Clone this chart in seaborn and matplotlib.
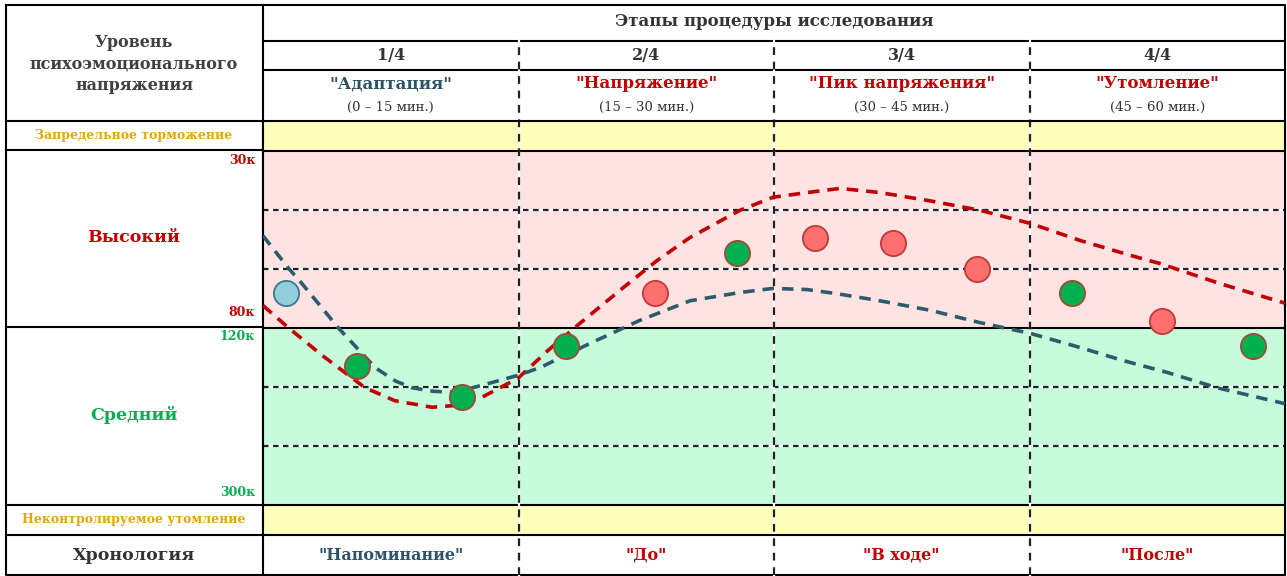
import matplotlib
matplotlib.use("Agg")
import matplotlib.pyplot as plt
import matplotlib.transforms as mtransforms
import seaborn as sns
import pandas as pd

# stages of the study (minutes 0-60)
stage_nums = ["1/4", "2/4", "3/4", "4/4"]
stage_names = ['"Адаптация"', '"Напряжение"', '"Пик напряжения"', '"Утомление"']
stage_times = ["(0 – 15 мин.)", "(15 – 30 мин.)", "(30 – 45 мин.)", "(45 – 60 мин.)"]
stage_colors = ["#2b5466", "#c00000", "#c00000", "#c00000"]
chrono = ['"Напоминание"', '"До"', '"В ходе"', '"После"']
stage_bounds = [15, 30, 45]

# measured points (x = minutes, y = level, 0..3 medium, 3..6 high)
pt_x = [1.35, 5.5, 11.7, 17.8, 23.0, 27.8, 32.4, 37.0, 41.9, 47.5, 52.8, 58.1]
pt_y = [3.60, 2.36, 1.84, 2.69, 3.60, 4.27, 4.53, 4.43, 4.00, 3.60, 3.11, 2.69]
pt_kind = ["base", "ok", "ok", "ok", "high", "ok", "high", "high", "high", "ok", "high", "ok"]

# red dashed curve
red_x = [0.0, 1.47, 3.46, 5.99, 7.75, 9.92, 11.27, 12.86, 14.97, 16.73, 18.61, 21.14,
         23.13, 25.07, 28.0, 29.94, 31.94, 33.88, 36.22, 39.16, 42.10, 45.03, 47.97,
         50.90, 52.66, 56.19, 60.0]
red_y = [3.38, 3.01, 2.54, 1.99, 1.77, 1.66, 1.69, 1.83, 2.15, 2.62, 3.08, 3.68,
         4.14, 4.53, 4.99, 5.21, 5.29, 5.36, 5.29, 5.15, 4.99, 4.77, 4.48,
         4.23, 4.09, 3.75, 3.42]
# blue dashed curve
blue_x = [0.0, 1.47, 2.29, 4.40, 6.58, 7.8, 8.75, 10.0, 11.27, 13.21, 14.97, 16.26,
          19.20, 22.13, 25.07, 28.0, 29.94, 31.94, 33.70, 36.22, 39.16, 42.10, 45.03,
          47.97, 50.49, 53.07, 56.01, 60.0]
blue_y = [4.56, 4.02, 3.75, 3.01, 2.33, 2.10, 1.99, 1.93, 1.91, 2.06, 2.20, 2.33,
          2.74, 3.13, 3.46, 3.60, 3.67, 3.65, 3.58, 3.46, 3.30, 3.09, 2.91,
          2.67, 2.45, 2.25, 1.99, 1.72]

kind_fill = {"base": "#92cddc", "ok": "#00b04f", "high": "#ff6f6f"}
kind_edge = {"base": "#3a7890", "ok": "#a04a3a", "high": "#c03a3a"}

serif = "DejaVu Serif"
W, H = 1287, 576
fig = plt.figure(figsize=(W / 100, H / 100), dpi=100)

over = fig.add_axes([0, 0, 1, 1])
over.set_xlim(0, W)
over.set_ylim(H, 0)
over.axis("off")

x0, x1, ytop, ybot = 263, 1285, 121, 535
ax = fig.add_axes([x0 / W, (H - ybot) / H, (x1 - x0) / W, (ybot - ytop) / H])
ax.set_xlim(0, 60)
ax.set_ylim(-0.5, 6.5)

# bands
ax.axhspan(6, 6.5, color="#ffffbb", lw=0)
ax.axhspan(3, 6, color="#ffe3e3", lw=0)
ax.axhspan(0, 3, color="#c6fcdc", lw=0)
ax.axhspan(-0.5, 0, color="#ffffbb", lw=0)

for lv in [1, 2, 4, 5]:
    ax.axhline(lv, color="white", lw=1.6, zorder=2)
    ax.axhline(lv, color="#222222", lw=1.6, dashes=(2.5, 2), zorder=2)
for lv in [0, 3, 6]:
    ax.axhline(lv, color="black", lw=1.5, zorder=2)

for b in stage_bounds:
    ax.axvline(b, ymin=-0.097, ymax=1.193, color="white", lw=1.6, clip_on=False, zorder=2)
    ax.axvline(b, ymin=-0.097, ymax=1.193, color="#222222", lw=1.6, dashes=(3.5, 3),
               clip_on=False, zorder=2)

curves = pd.DataFrame({"x": red_x, "y": red_y})
sns.lineplot(data=curves, x="x", y="y", ax=ax, color="#c00000", lw=2.6,
             linestyle=(0, (3.2, 2.2)), zorder=3, legend=False)
curves_b = pd.DataFrame({"x": blue_x, "y": blue_y})
sns.lineplot(data=curves_b, x="x", y="y", ax=ax, color="#2e5b6c", lw=2.6,
             linestyle=(0, (3.2, 2.2)), zorder=3, legend=False)

pts = pd.DataFrame({"x": pt_x, "y": pt_y, "kind": pt_kind})
for k in ["base", "ok", "high"]:
    sub = pts[pts["kind"] == k]
    sns.scatterplot(data=sub, x="x", y="y", ax=ax, s=330, color=kind_fill[k],
                    edgecolor=kind_edge[k], linewidth=1.3, zorder=5, legend=False)

ax.set_xlabel("")
ax.set_ylabel("")
ax.set_xticks([])
ax.set_yticks([])
for sp in ax.spines.values():
    sp.set_color("black")
    sp.set_linewidth(1.5)

# table frame
lk = dict(color="black", lw=1.5)
over.plot([6, 1285, 1285, 6, 6], [5, 5, 575, 575, 5], **lk)
over.plot([263, 263], [5, 575], **lk)
over.plot([263, 1285], [41, 41], **lk)
over.plot([263, 1285], [70, 70], **lk)
for yy in [121, 150, 327, 505, 535]:
    over.plot([6, 263], [yy, yy], **lk)

tk = dict(family=serif, weight="bold", ha="center", va="center")
over.text(774, 21, "Этапы процедуры исследования", fontsize=12, color="#333333", **tk)
over.text(134, 64, "Уровень\nпсихоэмоционального\nнапряжения", fontsize=11.5,
          color="#404040", linespacing=1.35, **tk)
over.text(134, 136, "Запредельное торможение", fontsize=9, color="#e0a800", **tk)
over.text(134, 238, "Высокий", fontsize=12.5, color="#c00000", **tk)
over.text(134, 415, "Средний", fontsize=12.5, color="#00b050", **tk)
over.text(134, 520, "Неконтролируемое утомление", fontsize=9, color="#e0a800", **tk)
over.text(134, 555, "Хронология", fontsize=12.5, color="#333333", **tk)

rk = dict(family=serif, weight="bold", ha="right", va="center", fontsize=9)
over.text(255, 160, "30к", color="#c00000", **rk)
over.text(255, 312, "80к", color="#c00000", **rk)
over.text(255, 337, "120к", color="#00b050", **rk)
over.text(255, 493, "300к", color="#00b050", **rk)

blend = mtransforms.blended_transform_factory(ax.transData, over.transData)
for i in range(4):
    cx = 7.5 + 15 * i
    over.text(cx, 55, stage_nums[i], transform=blend, fontsize=11.5, color="#333333", **tk)
    over.text(cx, 84, stage_names[i], transform=blend, fontsize=12, color=stage_colors[i], **tk)
    over.text(cx, 107, stage_times[i], transform=blend, fontsize=9.5, color="#333333",
              family=serif, ha="center", va="center")
    over.text(cx, 555, chrono[i], transform=blend, fontsize=11.5, color=stage_colors[i], **tk)

fig.savefig("out.png", dpi=100)
